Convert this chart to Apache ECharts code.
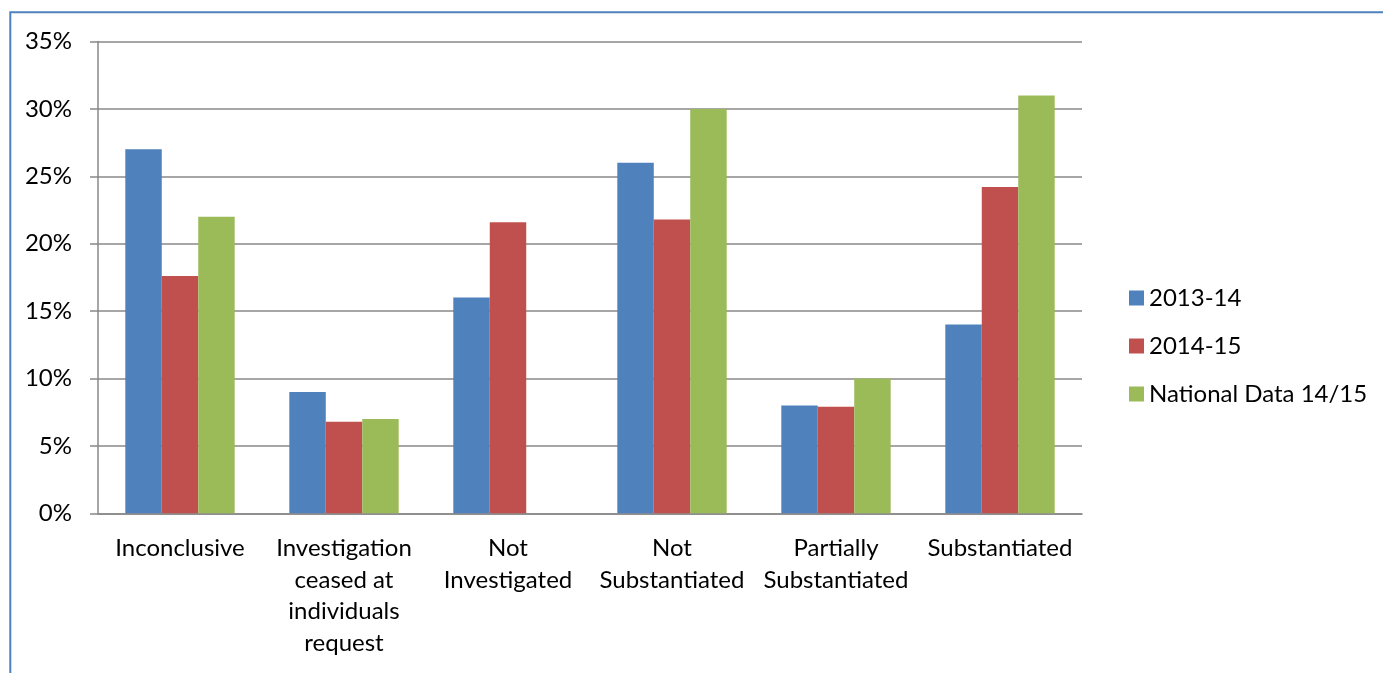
<!DOCTYPE html>
<html>
<head>
<meta charset="utf-8">
<script src="https://cdn.jsdelivr.net/npm/echarts@6/dist/echarts.min.js"></script>
<style>
html,body{margin:0;padding:0;background:#fff;}
#c{width:1383px;height:673px;}
</style>
</head>
<body>
<div id="c"></div>
<script>
var categories = ['Inconclusive', 'Investigation\nceased at\nindividuals\nrequest', 'Not\nInvestigated', 'Not\nSubstantiated', 'Partially\nSubstantiated', 'Substantiated'];
var seriesNames = ['2013-14', '2014-15', 'National Data 14/15'];
var s2013 = [27, 9, 16, 26, 8, 14];
var s2014 = [17.6, 6.8, 21.6, 21.8, 7.9, 24.2];
var sNational = [22, 7, null, 30, 10, 31];
var yTicks = {min: 0, max: 35, interval: 5};
var colors = ['#4f81bd', '#c0504d', '#9bbb59'];

var FONT = 'Lato';
var chart = echarts.init(document.getElementById('c'), null, {renderer: 'canvas'});
var data = [s2013, s2014, sNational];
chart.setOption({
  animation: false,
  color: colors,
  graphic: [{
    type: 'rect', silent: true,
    shape: {x: 10.3, y: 12.3, width: 1500, height: 800},
    style: {fill: 'none', stroke: '#4f81bd', lineWidth: 2}
  }],
  grid: {left: 98, right: 301, top: 41.5, bottom: 159.7, containLabel: false},
  legend: {
    orient: 'vertical', left: 1124, top: 281,
    itemWidth: 15, itemHeight: 15, itemGap: 24, icon: 'rect',
    data: seriesNames,
    textStyle: {fontFamily: FONT, fontSize: 24, color: '#000', lineHeight: 24}
  },
  xAxis: {
    type: 'category', data: categories,
    axisLine: {lineStyle: {color: '#888', width: 1.5}},
    axisTick: {length: 8, lineStyle: {color: '#888', width: 1.5}},
    axisLabel: {interval: 0, margin: 19, fontFamily: FONT, fontSize: 24, color: '#000', lineHeight: 31.7, hideOverlap: false}
  },
  yAxis: {
    type: 'value', min: yTicks.min, max: yTicks.max, interval: yTicks.interval,
    axisLine: {show: true, lineStyle: {color: '#888', width: 1.5}},
    axisTick: {show: true, length: 8, lineStyle: {color: '#888', width: 1.5}},
    splitLine: {lineStyle: {color: '#888', width: 1.5}},
    axisLabel: {formatter: '{value}%', margin: 26, fontFamily: FONT, fontSize: 24, color: '#000'}
  },
  series: seriesNames.map(function (n, i) {
    return {
      name: n, type: 'bar', data: data[i],
      barGap: '0%', barCategoryGap: '33.3%'
    };
  })
});
</script>
</body>
</html>
